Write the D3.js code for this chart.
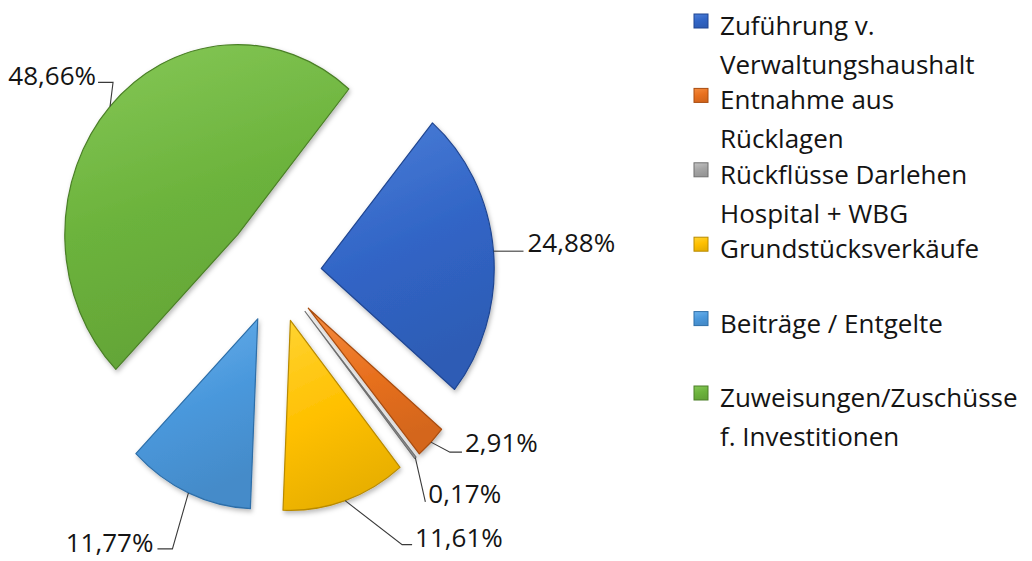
<!DOCTYPE html>
<html>
<head>
<meta charset="utf-8">
<script src="https://cdn.jsdelivr.net/npm/d3@7"></script>
<style>
  html, body { margin: 0; padding: 0; background: #ffffff; }
  svg { display: block; }
  text { font-family: "Open Sans", "Noto Sans", sans-serif; fill: #141414; }
</style>
</head>
<body>
<svg id="chart" width="1032" height="561"></svg>
<script>
// ---- data ----
const categories = [
  "Zuführung v. Verwaltungshaushalt",
  "Entnahme aus Rücklagen",
  "Rückflüsse Darlehen Hospital + WBG",
  "Grundstücksverkäufe",
  "Beiträge / Entgelte",
  "Zuweisungen/Zuschüsse f. Investitionen"
];
const legendLines = [
  ["Zuführung v.", "Verwaltungshaushalt"],
  ["Entnahme aus", "Rücklagen"],
  ["Rückflüsse Darlehen", "Hospital + WBG"],
  ["Grundstücksverkäufe"],
  ["Beiträge / Entgelte"],
  ["Zuweisungen/Zuschüsse", "f. Investitionen"]
];
const values = [24.88, 2.91, 0.17, 11.61, 11.77, 48.66];

// ---- style / layout ----
const colors = ["#3165c6", "#e8701f", "#a5a5a5", "#ffc000", "#4a98dc", "#6cb33c"];
const dark   = ["#1f4591", "#a84c10", "#6f6f6f", "#b88a00", "#2d6ea8", "#4a7f26"];
const light  = ["#4d7fd8", "#f58c3e", "#c4c4c4", "#ffd433", "#6cb2ec", "#86c858"];
const explode = [50, 50, 50, 50, 50, 57];
// leader layout: [elbow dx, elbow dy, end dx, end dy, text dx, text dy, anchor]
const labelLayout = [
  [30, 0, 30, 0, 34, 1, "start"],
  [19, 10, 31, 10, 34, 10, "start"],
  [10, 44, 10, 44, 13, 45, "start"],
  [57, 44, 67, 44, 70, 46, "start"],
  [-16, 56, -31, 56, -35, 59, "end"],
  [3, -24, -12, -24, -14, -21, "end"]
];

const cx = 276, cy = 273, R = 190, sx = 0.91;
const startDeg = 40;

const svg = d3.select("#chart");
const defs = svg.append("defs");

colors.forEach((c, i) => {
  const g = defs.append("linearGradient")
    .attr("id", "grad" + i)
    .attr("x1", "0").attr("y1", "0").attr("x2", "0.3").attr("y2", "1");
  g.append("stop").attr("offset", "0%").attr("stop-color", light[i]);
  g.append("stop").attr("offset", "55%").attr("stop-color", c);
  g.append("stop").attr("offset", "100%").attr("stop-color", d3.color(c).darker(0.25));
});

const shadow = defs.append("filter").attr("id", "shadow")
  .attr("x", "-20%").attr("y", "-20%").attr("width", "140%").attr("height", "140%");
shadow.append("feDropShadow").attr("dx", 1.5).attr("dy", 2.5)
  .attr("stdDeviation", 2.5).attr("flood-color", "#000").attr("flood-opacity", 0.28);

const pie = d3.pie().sort(null).value(d => d)
  .startAngle(startDeg * Math.PI / 180)
  .endAngle(startDeg * Math.PI / 180 + 2 * Math.PI);
const arcs = pie(values);
const arc = d3.arc().innerRadius(0).outerRadius(R);

const pieG = svg.append("g");

arcs.forEach((a, i) => {
  const mid = (a.startAngle + a.endAngle) / 2;
  const ox = explode[i] * Math.sin(mid), oy = -explode[i] * Math.cos(mid);
  const g = pieG.append("g")
    .attr("transform", `translate(${cx},${cy}) scale(${sx},1) translate(${ox},${oy})`);
  g.append("path")
    .attr("d", arc(a))
    .attr("fill", `url(#grad${i})`)
    .attr("stroke", dark[i])
    .attr("stroke-width", 1.2)
    .attr("vector-effect", "non-scaling-stroke")
    .attr("stroke-linejoin", "round")
    .attr("filter", "url(#shadow)");
});

// labels + leader lines
const labelG = svg.append("g");
arcs.forEach((a, i) => {
  const mid = (a.startAngle + a.endAngle) / 2;
  const px = cx + sx * (explode[i] + R) * Math.sin(mid);
  const py = cy - (explode[i] + R) * Math.cos(mid);
  const L = labelLayout[i];
  labelG.append("path")
    .attr("d", `M${px},${py} L${px + L[0]},${py + L[1]} L${px + L[2]},${py + L[3]}`)
    .attr("fill", "none")
    .attr("stroke", "#3a3a3a")
    .attr("stroke-width", 1.1);
  labelG.append("text")
    .attr("x", px + L[4])
    .attr("y", py + L[5])
    .attr("text-anchor", L[6])
    .attr("font-size", 26)
    .text(values[i].toFixed(2).replace(".", ",") + "%");
});

// legend
const legendY = d3.scalePoint().domain(d3.range(categories.length)).range([35, 407]);
const legend = svg.append("g");
categories.forEach((c, i) => {
  const y = legendY(i);
  legend.append("rect")
    .attr("x", 694).attr("y", y - 21)
    .attr("width", 14).attr("height", 14)
    .attr("fill", `url(#grad${i})`)
    .attr("stroke", dark[i]).attr("stroke-width", 1);
  legendLines[i].forEach((ln, j) => {
    legend.append("text")
      .attr("x", 720)
      .attr("y", y + j * 39)
      .attr("font-size", 26)
      .text(ln);
  });
});
</script>
</body>
</html>
